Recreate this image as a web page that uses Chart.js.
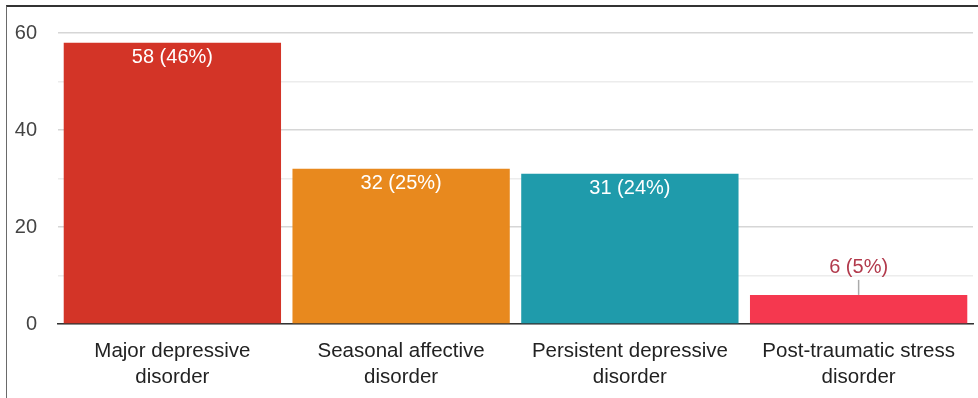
<!DOCTYPE html>
<html>
<head>
<meta charset="utf-8">
<script src="https://cdn.jsdelivr.net/npm/chart.js@4/dist/chart.umd.min.js"></script>
<style>
  html, body { margin: 0; padding: 0; background: #fff; }
  #frame {
    position: absolute; left: 6px; top: 5px;
    width: 972px; height: 393px;
    border-left: 1px solid #6a6a6a;
    border-top: 2px solid #333;
  }
  #disorders { display: block; }
</style>
</head>
<body>
<div id="frame"><canvas id="disorders" width="971" height="391"></canvas></div>
<script>
const categories = [
  ["Major depressive", "disorder"],
  ["Seasonal affective", "disorder"],
  ["Persistent depressive", "disorder"],
  ["Post-traumatic stress", "disorder"]
];
const counts = [58, 32, 31, 6];
const barColors = ["#d33427", "#e8891e", "#1f9bab", "#f5384f"];
const yTicks = [0, 20, 40, 60];

const total = counts.reduce((a, b) => a + b, 0);
const FONT = "'Liberation Sans', Arial, sans-serif";

// value + share label: white inside tall bars, coloured with a leader line above short ones
const valueLabels = {
  id: "valueLabels",
  afterDatasetsDraw(chart) {
    const ctx = chart.ctx;
    const meta = chart.getDatasetMeta(0);
    ctx.save();
    ctx.font = `20px ${FONT}`;
    ctx.textAlign = "center";
    ctx.textBaseline = "middle";
    meta.data.forEach((bar, i) => {
      const v = counts[i];
      const text = `${v} (${Math.round(v / total * 100)}%)`;
      const height = bar.base - bar.y;
      if (height > 40) {
        ctx.fillStyle = "#fff";
        ctx.fillText(text, bar.x, bar.y + 15);
      } else {
        ctx.strokeStyle = "#aaa";
        ctx.lineWidth = 1.5;
        ctx.beginPath();
        ctx.moveTo(bar.x, bar.y);
        ctx.lineTo(bar.x, bar.y - 15);
        ctx.stroke();
        ctx.fillStyle = "#b23a4c";
        ctx.fillText(text, bar.x, bar.y - 27);
      }
    });
    ctx.restore();
  }
};

new Chart(document.getElementById("disorders"), {
  type: "bar",
  data: {
    labels: categories,
    datasets: [{
      data: counts,
      backgroundColor: barColors,
      barPercentage: 0.95,
      categoryPercentage: 1.0
    }]
  },
  options: {
    responsive: false,
    animation: false,
    layout: { padding: { left: 0, right: 5, top: 26, bottom: 0 } },
    plugins: { legend: { display: false }, tooltip: { enabled: false } },
    scales: {
      x: {
        grid: { display: false, drawTicks: false },
        border: { display: true, color: "#333", width: 1.5 },
        ticks: {
          color: "#222",
          padding: 14,
          maxRotation: 0,
          autoSkip: false,
          font: { family: FONT, size: 20.5, lineHeight: 1.27 }
        },
        afterFit(scale) { scale.height = 74; }
      },
      y: {
        min: 0,
        max: 60,
        border: { display: false },
        grid: {
          drawTicks: false,
          color: (c) => (c.tick && yTicks.includes(c.tick.value)) ? "#d6d6d6" : "#ececec",
          lineWidth: 1.5
        },
        ticks: {
          stepSize: 10,
          padding: 21,
          color: "#444",
          font: { family: FONT, size: 20 },
          callback: (v) => yTicks.includes(v) ? v : ""
        },
        afterFit(scale) {
          scale.width = 51;
          // tick padding is horizontal here; don't let it push the plot down
          scale.paddingTop = 12;
        }
      }
    }
  },
  plugins: [valueLabels]
});
</script>
</body>
</html>
